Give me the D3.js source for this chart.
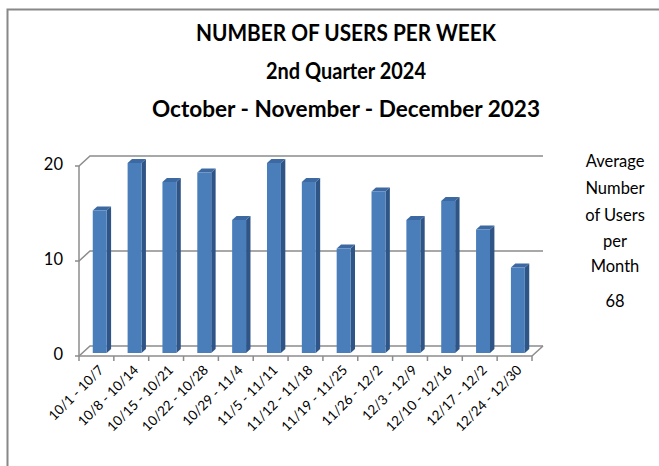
<!DOCTYPE html>
<html lang="en">
  <head>
    <meta charset="utf-8"/>
    <title>Number of users per week</title>
    <script src="https://cdn.jsdelivr.net/npm/d3@7"></script>
    <style>
      body { margin: 0; background: #fff; }
      text { font-family: Lato, "Open Sans", sans-serif; fill: #000; }
    </style>
  </head>
  <body>
    <div id="chart-holder"></div>
    <script type="text/javascript">

      // chart data
      var weeks = ["10/1 - 10/7", "10/8 - 10/14", "10/15 - 10/21", "10/22 - 10/28", "10/29 - 11/4",
                   "11/5 - 11/11", "11/12 - 11/18", "11/19 - 11/25", "11/26 - 12/2", "12/3 - 12/9",
                   "12/10 - 12/16", "12/17 - 12/2", "12/24 - 12/30"];
      var users = [15, 20, 18, 19, 14, 20, 18, 11, 17, 14, 16, 13, 9];
      var yTicks = [0, 10, 20];
      var titleLines = ["NUMBER OF USERS PER WEEK", "2nd Quarter 2024", "October - November - December 2023"];
      var sideNote = ["Average", "Number", "of Users", "per", "Month"];
      var avgPerMonth = 68;

      var W = 659, H = 466;

      // 3d depth of the floor / back wall
      var depthX = 11, depthY = -10;
      // bars sit between 30% and 70% of the depth
      var barFront = 0.3, barBack = 0.7;

      var x = d3.scaleBand()
        .domain(weeks)
        .range([79, 532])
        .paddingInner(0.6)
        .paddingOuter(0.3);

      // plain band scale used for the tick marks / labels
      var xCat = d3.scaleBand()
        .domain(weeks)
        .range([79, 532]);

      var y = d3.scaleLinear()
        .domain([0, 20])
        .range([356, 166]);

      var svg = d3.select("#chart-holder")
        .append("svg")
        .attr("width", W)
        .attr("height", H);

      // outer chart border (only left and top show in the frame)
      svg.append("path")
        .attr("d", "M7.5," + H + "V9.5H" + W)
        .attr("fill", "none")
        .attr("stroke", "#888")
        .attr("stroke-width", 2);

      // titles
      var titleY = [41, 79, 117];
      var titleW = [300, 160, 388];
      svg.selectAll(".title")
        .data(titleLines)
        .enter()
        .append("text")
        .attr("class", "title")
        .attr("x", 346)
        .attr("y", function(d, i) { return titleY[i]; })
        .attr("text-anchor", "middle")
        .attr("textLength", function(d, i) { return titleW[i]; })
        .attr("lengthAdjust", "spacingAndGlyphs")
        .style("font-size", "22px")
        .style("font-weight", "bold")
        .text(function(d) { return d; });

      var x0 = x.range()[0], x1 = x.range()[1];

      // gridlines: short tick, diagonal onto back wall, then across the wall
      var grid = svg.append("g")
        .attr("fill", "none")
        .attr("stroke", "#8c8c8c")
        .attr("stroke-width", 1.5);

      grid.selectAll(".grid")
        .data(yTicks)
        .enter()
        .append("path")
        .attr("d", function(d) {
          return "M" + (x0 - 4) + "," + y(d) + "H" + x0 +
                 "L" + (x0 + depthX) + "," + (y(d) + depthY) +
                 "H" + (x1 + depthX);
        });

      // floor right edge
      grid.append("path")
        .attr("d", "M" + x1 + "," + y(0) + "L" + (x1 + depthX) + "," + (y(0) + depthY));

      // y axis line
      grid.append("path")
        .attr("d", "M" + x0 + "," + y(20) + "V" + y(0));

      // x axis line with ticks
      grid.append("path")
        .attr("d", "M" + x0 + "," + y(0) + "H" + x1);
      grid.selectAll(".xtick")
        .data(weeks.concat(["end"]))
        .enter()
        .append("path")
        .attr("d", function(d, i) {
          var tx = x0 + i * xCat.step();
          return "M" + tx + "," + y(0) + "V" + (y(0) + 5);
        });

      // y tick labels
      svg.selectAll(".ylabel")
        .data(yTicks)
        .enter()
        .append("text")
        .attr("x", 63)
        .attr("y", function(d) { return y(d); })
        .attr("text-anchor", "end")
        .attr("dominant-baseline", "middle")
        .style("font-size", "16.5px")
        .text(function(d) { return d; });

      // bars as three faces
      var fx = barFront * depthX, fy = barFront * depthY;
      var dx = (barBack - barFront) * depthX, dy = (barBack - barFront) * depthY;
      var bw = x.bandwidth();

      var bars = svg.selectAll(".bar")
        .data(weeks)
        .enter()
        .append("g")
        .attr("class", "bar");

      // side face
      bars.append("path")
        .attr("fill", "#2f5586")
        .attr("d", function(d, i) {
          var bx = x(d) + fx + bw, top = y(users[i]) + fy, base = y(0) + fy;
          return "M" + bx + "," + base + "V" + top +
                 "l" + dx + "," + dy + "V" + (base + dy) + "Z";
        });
      // top face
      bars.append("path")
        .attr("fill", "#3c69a2")
        .attr("d", function(d, i) {
          var bx = x(d) + fx, top = y(users[i]) + fy;
          return "M" + bx + "," + top + "l" + dx + "," + dy + "h" + bw + "l" + (-dx) + "," + (-dy) + "Z";
        });
      // front face
      bars.append("rect")
        .attr("fill", "#4a7ebb")
        .attr("x", function(d) { return x(d) + fx; })
        .attr("y", function(d, i) { return y(users[i]) + fy; })
        .attr("width", bw)
        .attr("height", function(d, i) { return y(0) - y(users[i]); });

      // rotated week labels
      svg.selectAll(".xlabel")
        .data(weeks)
        .enter()
        .append("text")
        .attr("text-anchor", "end")
        .attr("transform", function(d) {
          var lx = xCat(d) + xCat.bandwidth() / 2 + 8;
          return "translate(" + lx + "," + 371 + ")rotate(-45)";
        })
        .style("font-size", "13.5px")
        .text(function(d) { return d; });

      // side note with monthly average
      var noteY = [163, 190, 217, 243, 268];
      svg.selectAll(".note")
        .data(sideNote)
        .enter()
        .append("text")
        .attr("x", 615)
        .attr("y", function(d, i) { return noteY[i]; })
        .attr("text-anchor", "middle")
        .attr("dominant-baseline", "middle")
        .style("font-size", "16.5px")
        .text(function(d) { return d; });

      svg.append("text")
        .attr("x", 615)
        .attr("y", 303)
        .attr("text-anchor", "middle")
        .attr("dominant-baseline", "middle")
        .style("font-size", "16.5px")
        .text(avgPerMonth);
    </script>
  </body>
</html>
